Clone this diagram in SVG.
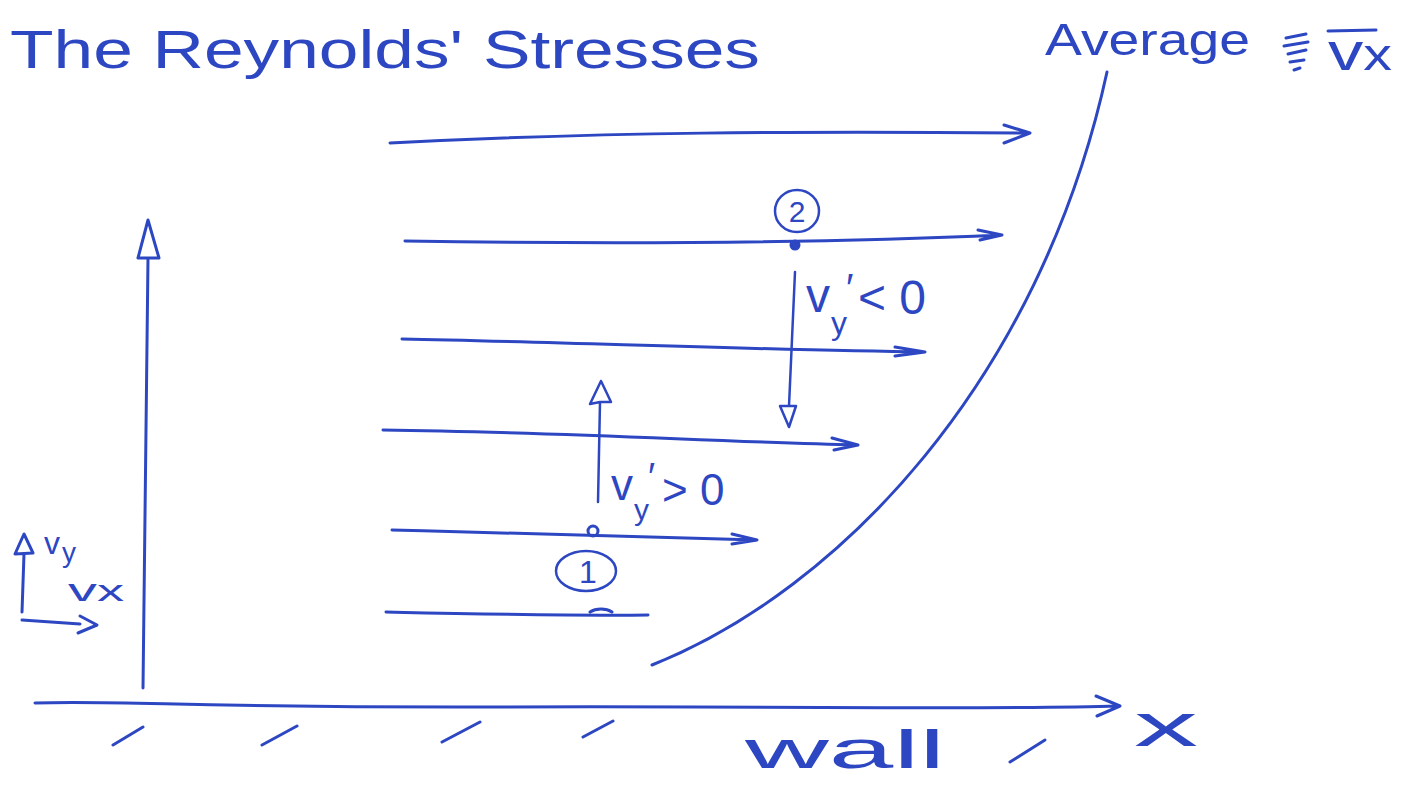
<svg xmlns="http://www.w3.org/2000/svg" width="1415" height="786" viewBox="0 0 1415 786">
<style>
.ink{fill:none;stroke:#2d47c2;stroke-width:3;stroke-linecap:round;stroke-linejoin:round}
.thin{fill:none;stroke:#2d47c2;stroke-width:2.5;stroke-linecap:round;stroke-linejoin:round}
.t{font-family:"Liberation Sans","DejaVu Sans",sans-serif;fill:#2d47c2}
</style>
<rect width="1415" height="786" fill="#ffffff"/>
<g id="title">
<text class="t" x="10" y="68" font-size="54" textLength="750" lengthAdjust="spacingAndGlyphs">The Reynolds' Stresses</text>
</g>
<g id="average-label">
<text class="t" x="1045" y="55" font-size="44" textLength="205" lengthAdjust="spacingAndGlyphs">Average</text>
<path class="ink" d="M1286,38 L1306,34 M1284,46 L1308,42 M1288,54 L1306,50 M1290,62 L1304,60 M1294,70 L1300,68"/>
<line class="ink" x1="1328" y1="31" x2="1376" y2="30"/>
<text class="t" x="1328" y="70" font-size="54" textLength="64" lengthAdjust="spacingAndGlyphs">v<tspan font-size="44">x</tspan></text>
</g>
<g id="profile-curve">
<path class="ink" d="M652,665 C840,590 1040,380 1107,72"/>
</g>
<g id="axes-legend">
<text class="t" x="44" y="554" font-size="32">v</text>
<text class="t" x="62" y="562" font-size="28">y</text>
<text class="t" x="68" y="601" font-size="32" textLength="56" lengthAdjust="spacingAndGlyphs">v<tspan font-size="30">x</tspan></text>
</g>
<g id="point-2">
<circle cx="795" cy="245" r="4.5" fill="#2d47c2" stroke="#2d47c2" stroke-width="2"/>
<ellipse class="thin" cx="797" cy="211" rx="22" ry="21"/>
<text class="t" x="797" y="222" font-size="30" text-anchor="middle">2</text>
</g>
<g id="point-1">
<circle cx="593" cy="531" r="5" fill="none" stroke="#2d47c2" stroke-width="3"/>
<ellipse class="thin" cx="586" cy="571" rx="30" ry="20"/>
<text class="t" x="588" y="583" font-size="32" text-anchor="middle">1</text>
</g>
<g id="label-neg">
<text class="t" x="806" y="312" font-size="48">v</text>
<text class="t" x="831" y="334" font-size="32">y</text>
<text class="t" x="846" y="302" font-size="40">′</text>
<text class="t" x="858" y="314" font-size="48">&lt; 0</text>
</g>
<g id="label-pos">
<text class="t" x="611" y="500" font-size="44">v</text>
<text class="t" x="634" y="520" font-size="30">y</text>
<text class="t" x="648" y="490" font-size="38">′</text>
<text class="t" x="662" y="505" font-size="44">&gt; 0</text>
</g>
<g id="wall-label">
<text class="t" x="745" y="768" font-size="54" textLength="200" lengthAdjust="spacingAndGlyphs">wall</text>
<text class="t" x="1134" y="746" font-size="62" textLength="64" lengthAdjust="spacingAndGlyphs">x</text>
</g>
<g id="connectors">
<path class="ink" d="M390,143 C600,132 800,131 1030,133 M1004,125 L1030,133 L1004,143"/>
<path class="ink" d="M405,241 C600,244 800,244 1002,235 M978,230 L1002,235 L980,240"/>
<path class="ink" d="M402,339 C560,342 760,350 925,352 M895,347 L925,352 L895,356"/>
<path class="ink" d="M383,430 C560,432 720,442 858,445 M832,438 L858,445 L834,450"/>
<path class="ink" d="M392,530 C520,533 650,537 757,540 M732,534 L757,540 L732,544"/>
<path class="ink" d="M386,612 C480,614 570,616 648,615 M590,612 C596,608 606,608 612,612"/>
<path class="ink" d="M143,688 C146,520 146,380 148,258 M148,258 L159,258 L148,220 L138,258 Z"/>
<path class="thin" d="M598,502 L600,402 M600,402 L611,402 L601,381 L590,404 Z"/>
<path class="thin" d="M795,272 L789,406 M780,406 L789,427 L796,406 Z"/>
<path class="ink" d="M22,612 L24,554 M15,554 L33,553 L24,534 Z M22,620 L80,624 M80,616 L97,625 L78,633"/>
<path class="ink" d="M35,703 C120,700 200,708 500,707 C800,706 1000,710 1118,706 M1096,696 L1120,706 L1097,716"/>
<path class="ink" d="M113,745 L143,727 M262,745 L297,726 M442,742 L480,722 M583,737 L613,721 M1010,762 L1045,740"/>
</g>
</svg>
